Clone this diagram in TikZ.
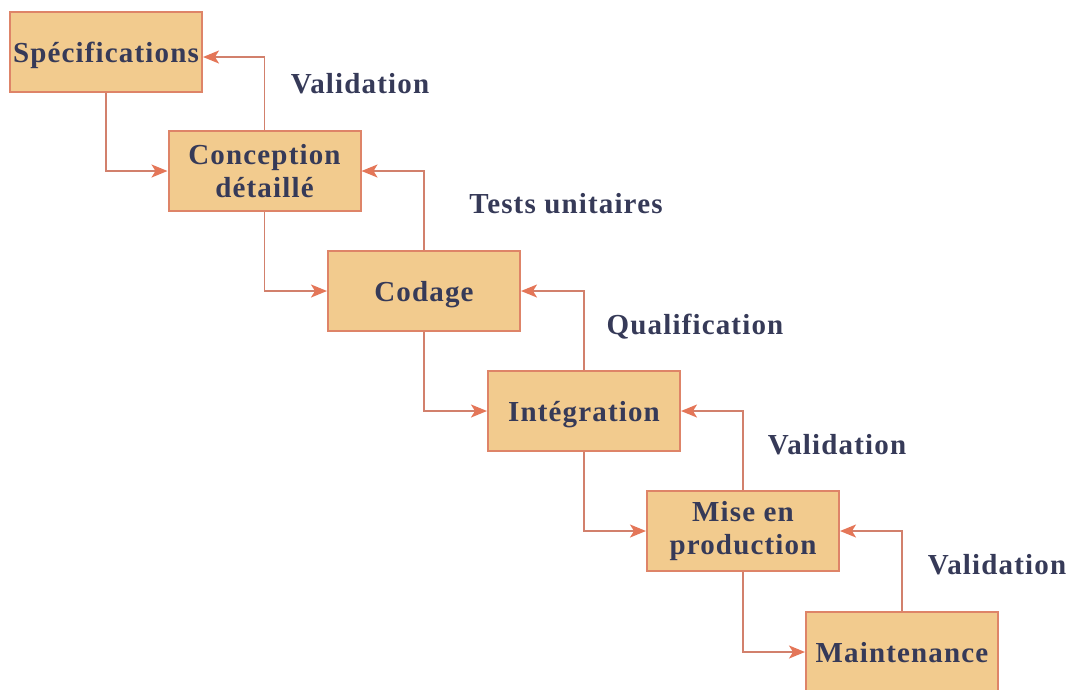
\documentclass[tikz,border=0pt]{standalone}
\usepackage{fontspec}
\usetikzlibrary{arrows.meta}
\newfontfamily\stagefont{Liberation Serif}[LetterSpace=4.0]
\definecolor{boxfill}{RGB}{242,203,142}
\definecolor{boxedge}{RGB}{222,132,104}
\definecolor{wire}{RGB}{210,128,108}
\definecolor{tipcol}{RGB}{228,118,88}
\definecolor{ink}{RGB}{54,58,88}
\tikzset{
  stage/.style={draw=boxedge, line width=2pt, fill=boxfill,
    minimum width=192pt, minimum height=80pt, inner sep=0pt,
    align=center, text=ink,
    font=\stagefont\bfseries\fontsize{29}{33}\selectfont},
  oneline/.style={text height=20pt, text depth=0pt},
  phase/.style={text=ink, anchor=base,
    font=\stagefont\bfseries\fontsize{29}{33}\selectfont},
  flow/.style={draw=wire, line width=1.8pt,
    -{Stealth[length=16pt, width=13pt, inset=4pt, fill=tipcol, color=tipcol]}},
}
\begin{document}
\begin{tikzpicture}[x=1pt, y=-1pt]
  \useasboundingbox (0,0) rectangle (1071,689);
  \clip (0,0) rectangle (1071,689);

  % the six stages of the cascade
  \node[stage, oneline] (spec) at (106,52)   {Spécifications};
  \node[stage]          (conc) at (264.5,171) {Conception\\détaillé};
  \node[stage, oneline] (code) at (424,291)  {Codage};
  \node[stage, oneline] (intg) at (584,411)  {Intégration};
  \node[stage]          (prod) at (743,531)  {Mise en\\production};
  \node[stage, oneline] (mnt)  at (902,652)  {Maintenance};

  % forward steps down the cascade
  \draw[flow] (spec.south) |- (conc.west);
  \draw[flow] (conc.south) |- (code.west);
  \draw[flow] (code.south) |- (intg.west);
  \draw[flow] (intg.south) |- (prod.west);
  \draw[flow] (prod.south) |- (mnt.west);

  % feedback loops back up
  \draw[flow] (conc.north) |- ([yshift=-5pt]spec.east);
  \draw[flow] (code.north) |- (conc.east);
  \draw[flow] (intg.north) |- (code.east);
  \draw[flow] (prod.north) |- (intg.east);
  \draw[flow] (mnt.north)  |- (prod.east);

  % names of the feedback loops
  \node[phase] (v1) at (360,93)  {Validation};
  \node[phase] (tu) at (566,213) {Tests unitaires};
  \node[phase] (ql) at (695,334) {Qualification};
  \node[phase] (v2) at (837,454) {Validation};
  \node[phase] (v3) at (997,574) {Validation};
\end{tikzpicture}
\end{document}
